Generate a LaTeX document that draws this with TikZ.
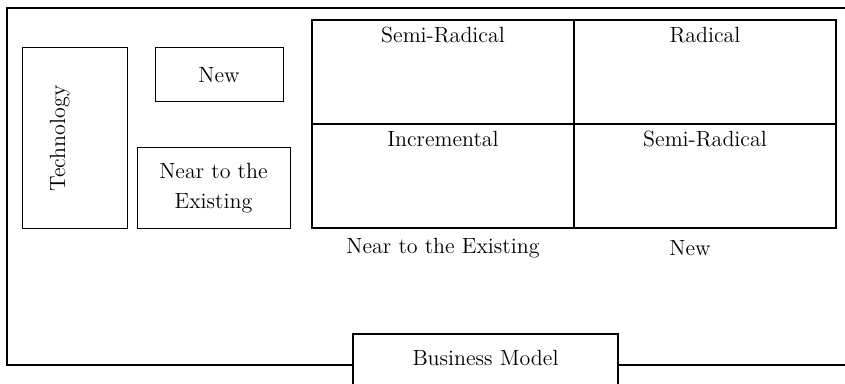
\documentclass[tikz,border=0pt]{standalone}
\usepackage{tikz}
\usetikzlibrary{positioning}
\tikzset{
  frameline/.style={black, line width=0.9pt},
  quadcell/.style={draw, line width=1pt, outer sep=0pt, inner sep=0pt,
    minimum width=131pt, text height=11.5pt, text depth=40.5pt},
  dimbox/.style={draw, line width=0.5pt, inner sep=0pt, align=center,
    font=\fontsize{11}{15}\selectfont},
  axislabel/.style={draw=none, inner sep=1pt}
}
\newcommand\semirad{Semi-Radical}

\begin{document}
\begin{tikzpicture}[x=0.5pt, y=-0.5pt, font=\fontsize{11}{15}\selectfont]
\useasboundingbox (0,0) rectangle (845,384);

% outer frame corners
\coordinate (tl) at (7,8);
\coordinate (tr) at (845,8);
\coordinate (bl) at (7,365);
\coordinate (br) at (845,365);

% the four quadrants
\node[quadcell, anchor=north west](sr1) at (312,20) {\semirad};
\node[quadcell, right=0pt of sr1](rad) {Radical};
\node[quadcell, below=0pt of sr1](inc) {Incremental};
\node[quadcell, below=0pt of rad](sr2) {\semirad};

% axis labels under the quadrants
\node[axislabel](bmnear) at (443,248) {Near to the Existing};
\node[axislabel](bmnew) at (690,248) {New};

% technology side
\node[dimbox, rotate=90, minimum width=90.5pt, minimum height=52.5pt,
  text height=21.5pt, text depth=31pt](tech) at (74.5,138.5) {Technology};
\node[dimbox, minimum width=64pt, minimum height=27pt](technew) at (219,75)
{New};
\node[dimbox, minimum width=76.5pt, minimum height=40.5pt](technear)
at (213.5,188.5) {Near to the\\Existing};

% business model box on the bottom line
\node[dimbox, line width=0.9pt, minimum width=132.5pt,
  text height=15.5pt, text depth=15.5pt](bm) at (485.5,365) {Business Model};

\draw[frameline] (tr) -- (tl) -- (bl) -- (bm.west);
\draw[frameline] (bm.east) -- (br);
\end{tikzpicture}
\end{document}
